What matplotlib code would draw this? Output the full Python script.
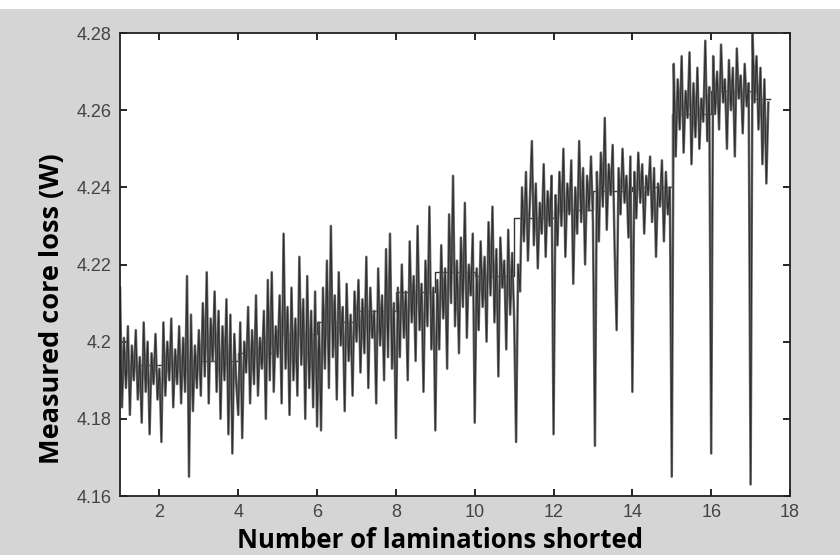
import matplotlib.pyplot as plt
import matplotlib.patches as mpatches
import numpy as np

# readings per lamination count (20 samples per unit of x)
seg1 = [4.214, 4.183, 4.201, 4.188, 4.204, 4.181, 4.199, 4.190, 4.203, 4.185, 4.196, 4.179, 4.205, 4.187, 4.200, 4.176, 4.197, 4.189, 4.202, 4.185]
seg2 = [4.193, 4.174, 4.205, 4.186, 4.200, 4.190, 4.206, 4.183, 4.198, 4.189, 4.204, 4.184, 4.201, 4.187, 4.217, 4.165, 4.207, 4.182, 4.199, 4.188]
seg3 = [4.203, 4.186, 4.210, 4.191, 4.218, 4.184, 4.206, 4.195, 4.213, 4.187, 4.208, 4.180, 4.204, 4.190, 4.211, 4.176, 4.207, 4.171, 4.202, 4.189]
seg4 = [4.181, 4.205, 4.175, 4.200, 4.192, 4.209, 4.184, 4.203, 4.189, 4.212, 4.186, 4.201, 4.193, 4.208, 4.180, 4.216, 4.190, 4.218, 4.187, 4.204]
seg5 = [4.196, 4.212, 4.184, 4.228, 4.193, 4.209, 4.181, 4.214, 4.190, 4.206, 4.186, 4.222, 4.194, 4.211, 4.180, 4.217, 4.188, 4.208, 4.183, 4.213]
seg6 = [4.178, 4.205, 4.177, 4.214, 4.193, 4.221, 4.188, 4.230, 4.196, 4.212, 4.185, 4.218, 4.199, 4.209, 4.182, 4.215, 4.195, 4.207, 4.186, 4.213]
seg7 = [4.200, 4.216, 4.192, 4.211, 4.197, 4.222, 4.188, 4.214, 4.201, 4.208, 4.184, 4.219, 4.199, 4.212, 4.190, 4.224, 4.196, 4.228, 4.193, 4.210]
seg8 = [4.175, 4.214, 4.196, 4.220, 4.201, 4.213, 4.190, 4.226, 4.205, 4.217, 4.195, 4.230, 4.203, 4.215, 4.187, 4.221, 4.204, 4.235, 4.198, 4.214]
seg9 = [4.177, 4.216, 4.198, 4.225, 4.206, 4.219, 4.193, 4.233, 4.210, 4.243, 4.204, 4.221, 4.197, 4.227, 4.209, 4.236, 4.201, 4.220, 4.212, 4.228]
seg10 = [4.179, 4.219, 4.203, 4.226, 4.209, 4.222, 4.200, 4.231, 4.212, 4.235, 4.205, 4.224, 4.191, 4.227, 4.214, 4.221, 4.198, 4.229, 4.207, 4.223]
seg11 = [4.206, 4.174, 4.220, 4.213, 4.240, 4.226, 4.244, 4.221, 4.237, 4.252, 4.225, 4.241, 4.219, 4.236, 4.228, 4.246, 4.222, 4.239, 4.230, 4.243]
seg12 = [4.176, 4.238, 4.225, 4.244, 4.230, 4.250, 4.222, 4.241, 4.233, 4.247, 4.215, 4.240, 4.228, 4.252, 4.231, 4.245, 4.220, 4.243, 4.234, 4.248]
seg13 = [4.231, 4.173, 4.244, 4.226, 4.249, 4.235, 4.258, 4.229, 4.246, 4.238, 4.251, 4.224, 4.203, 4.245, 4.233, 4.250, 4.236, 4.243, 4.227, 4.248]
seg14 = [4.187, 4.244, 4.232, 4.249, 4.236, 4.246, 4.228, 4.243, 4.238, 4.248, 4.231, 4.245, 4.222, 4.241, 4.235, 4.247, 4.226, 4.244, 4.233, 4.240]
seg15 = [4.165, 4.272, 4.248, 4.268, 4.255, 4.274, 4.249, 4.265, 4.258, 4.275, 4.246, 4.267, 4.253, 4.271, 4.250, 4.263, 4.257, 4.278, 4.252, 4.266]
seg16 = [4.171, 4.274, 4.259, 4.270, 4.255, 4.277, 4.262, 4.268, 4.250, 4.273, 4.260, 4.271, 4.248, 4.276, 4.263, 4.269, 4.254, 4.272, 4.261, 4.267]
seg17 = [4.163, 4.280, 4.262, 4.274, 4.255, 4.271, 4.246, 4.268, 4.241, 4.262]
segments = [seg1, seg2, seg3, seg4, seg5, seg6, seg7, seg8, seg9, seg10,
            seg11, seg12, seg13, seg14, seg15, seg16, seg17]

laminations = list(range(1, 18))
mean_levels = [4.194, 4.194, 4.195, 4.197, 4.202, 4.205, 4.208, 4.213, 4.218,
               4.217, 4.232, 4.234, 4.239, 4.240, 4.259, 4.265, 4.263]
samples_per_unit = 20

x = []
y = []
for lam, seg in zip(laminations, segments):
    x.extend(lam + np.arange(len(seg)) / samples_per_unit)
    y.extend(seg)

fig = plt.figure(figsize=(8.4, 5.55), dpi=100)
fig.patch.set_facecolor('#d5d5d5')
fig.patches.append(mpatches.Rectangle((0, 0.984), 1, 0.016, transform=fig.transFigure,
                                      facecolor='white', edgecolor='none', zorder=-1))

ax = fig.add_axes([0.1429, 0.1063, 0.7976, 0.8342])
ax.set_facecolor('white')
step_x = laminations + [17.5]
ax.step(step_x, mean_levels + [mean_levels[-1]], where='post', color='#333333',
        linewidth=1.0, zorder=1)
ax.plot(x, y, color='#6b6b6b', linewidth=1.8, zorder=2)
ax.plot(x, y, color='#1e1e1e', linewidth=0.7, alpha=0.8, zorder=3)

ax.set_xlim(1, 18)
ax.set_ylim(4.16, 4.28)
ax.set_xticks([2, 4, 6, 8, 10, 12, 14, 16, 18])
ax.set_yticks([4.16, 4.18, 4.20, 4.22, 4.24, 4.26, 4.28])
ax.set_yticklabels(['4.16', '4.18', '4.2', '4.22', '4.24', '4.26', '4.28'])
ax.tick_params(direction='in', top=True, right=True, length=5, width=1.2,
               labelsize=13, labelcolor='#444444', pad=6)
for lbl in ax.get_xticklabels() + ax.get_yticklabels():
    lbl.set_family('Liberation Sans')
for s in ax.spines.values():
    s.set_linewidth(1.3)
    s.set_color('#222222')

ax.set_xlabel('Number of laminations shorted', fontsize=18.5, fontweight='bold',
              family='Open Sans')
ax.set_ylabel('Measured core loss (W)', fontsize=19.5, fontweight='bold',
              family='Open Sans')
ax.xaxis.set_label_coords(0.477, -0.066)
ax.yaxis.set_label_coords(-0.082, 0.404)

fig.savefig('out.png', dpi=100, facecolor=fig.get_facecolor())
